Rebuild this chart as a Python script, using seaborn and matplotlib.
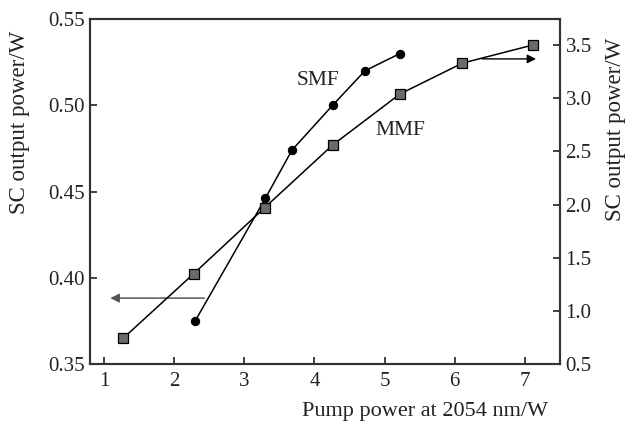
import matplotlib
matplotlib.use("Agg")
import matplotlib.pyplot as plt
import seaborn as sns
import pandas as pd

# SMF: left axis (SC output power, W)
smf_pump = [2.3, 3.3, 3.68, 4.26, 4.72, 5.22]
smf_power = [0.375, 0.446, 0.474, 0.500, 0.520, 0.530]

# MMF: right axis (SC output power, W)
mmf_pump = [1.27, 2.28, 3.29, 4.26, 5.22, 6.11, 7.11]
mmf_power = [0.74, 1.35, 1.97, 2.56, 3.04, 3.33, 3.50]

x_ticks = [1, 2, 3, 4, 5, 6, 7]
left_ticks = [0.35, 0.40, 0.45, 0.50, 0.55]
right_ticks = [0.5, 1.0, 1.5, 2.0, 2.5, 3.0, 3.5]

sns.set_style("ticks")
plt.rcParams['font.family'] = ['Liberation Serif', 'DejaVu Serif']

smf_df = pd.DataFrame({'pump': smf_pump, 'power': smf_power})
mmf_df = pd.DataFrame({'pump': mmf_pump, 'power': mmf_power})

fig = plt.figure(figsize=(6.27, 4.23), dpi=100)
ax = fig.add_axes([0.1435, 0.1395, 0.7495, 0.8155])
ax2 = ax.twinx()

sns.lineplot(data=smf_df, x='pump', y='power', ax=ax, color='black', lw=1.1,
             marker='o', markersize=6, markerfacecolor='black',
             markeredgecolor='black')
sns.lineplot(data=mmf_df, x='pump', y='power', ax=ax2, color='black', lw=1.1,
             marker='s', markersize=7.5, markerfacecolor='#6b6b6b',
             markeredgecolor='black', markeredgewidth=0.9)

ax.set_xlim(0.8, 7.5)
ax.set_ylim(0.35, 0.55)
ax2.set_ylim(0.5, 3.745)
ax.set_xticks(x_ticks)
ax.set_yticks(left_ticks)
ax.set_yticklabels([f"{v:.2f}" for v in left_ticks])
ax2.set_yticks(right_ticks)
ax2.set_yticklabels([f"{v:.1f}" for v in right_ticks])

tick_col = '#333333'
for a in (ax, ax2):
    a.tick_params(direction='in', length=5, width=1.3, colors=tick_col,
                  labelsize=15, labelcolor='#222222')
    for s in a.spines.values():
        s.set_linewidth(1.5)
        s.set_color('#333333')
ax.tick_params(axis='x', pad=6)
ax.tick_params(axis='y', pad=4)
ax2.tick_params(axis='y', pad=4)

ax.set_xlabel('Pump power at 2054 nm/W', fontsize=16, ha='right', va='center',
              color='#222222')
ax.xaxis.set_label_coords(0.974, -0.139)
ax.set_ylabel('SC output power/W', fontsize=16.5, va='center', color='#222222')
ax.yaxis.set_label_coords(-0.149, 0.70)
ax2.set_ylabel('SC output power/W', fontsize=16.5, va='center', rotation=90,
               color='#222222')
ax2.yaxis.set_label_coords(1.119, 0.68)

ax.text(4.05, 0.5145, 'SMF', fontsize=15.5, ha='center', va='center', color='#222222')
ax2.text(5.23, 2.70, 'MMF', fontsize=15.5, ha='center', va='center', color='#222222')

# direction arrows pointing to the relevant axis
ax.annotate('', xy=(1.05, 0.3882), xytext=(2.47, 0.3882),
            arrowprops=dict(arrowstyle='-|>', color='#555555', lw=1.1,
                            mutation_scale=13))
ax2.annotate('', xy=(7.2, 3.37), xytext=(6.35, 3.37),
             arrowprops=dict(arrowstyle='-|>', color='black', lw=1.0,
                             mutation_scale=13))

fig.savefig('out.png', dpi=100)
